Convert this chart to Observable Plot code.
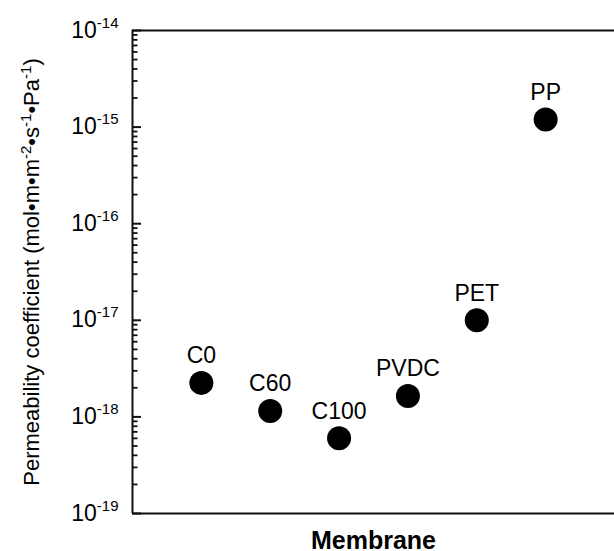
<!DOCTYPE html>
<html><head><meta charset="utf-8">
<script src="https://cdn.jsdelivr.net/npm/d3@7"></script>
<script src="https://cdn.jsdelivr.net/npm/@observablehq/plot@0.6"></script>
<style>body{margin:0;background:#fff}</style>
</head><body><div id="chart"></div>
<script>
const membranes = ["C0", "C60", "C100", "PVDC", "PET", "PP"];
const permeability = [2.25e-18, 1.15e-18, 6.0e-19, 1.65e-18, 1.0e-17, 1.2e-15];
const decadeTicks = [1e-19, 1e-18, 1e-17, 1e-16, 1e-15, 1e-14];
const yLabel = "Permeability coefficient (mol•m•m^-2•s^-1•Pa^-1)";
const xLabel = "Membrane";

const data = membranes.map((name, i) => ({name, order: i + 1, value: permeability[i]}));
const minorTicks = decadeTicks.slice(0, -1).flatMap(d => d3.range(2, 10).map(m => m * d));

const W = 614, H = 551, ML = 132, MR = 0, MT = 30, MB = 38;
const innerW = W - ML - MR;
const font = "'Liberation Sans', Arial, Helvetica, sans-serif";

const svg = Plot.plot({
  width: W, height: H,
  marginLeft: ML, marginRight: MR, marginTop: MT, marginBottom: MB,
  style: {fontFamily: font, color: "#000", background: "#fff"},
  x: {type: "linear", domain: [0, 7], axis: null},
  y: {type: "log", domain: [1e-19, 1e-14]},
  marks: [
    Plot.axisY(decadeTicks, {anchor: "left", tickSize: 0, tickPadding: 14, fontSize: 22, label: null,
      tickFormat: d => `10^${Math.round(Math.log10(d))}`}),
    Plot.tickY(decadeTicks, {insetRight: innerW - 9, stroke: "#111", strokeWidth: 2}),
    Plot.tickY(minorTicks, {insetRight: innerW - 5.5, stroke: "#111", strokeWidth: 1.8}),
    Plot.ruleX([0], {stroke: "#111", strokeWidth: 2}),
    Plot.ruleY([1e-14, 1e-19], {stroke: "#111", strokeWidth: 1.8}),
    Plot.dot(data, {x: "order", y: "value", r: 12, fill: "#000", stroke: null}),
    Plot.text(data, {x: "order", y: "value", text: "name", dy: -27, fontSize: 23, fill: "#000", lineAnchor: "middle"}),
    Plot.text([xLabel], {frameAnchor: "bottom", dy: 27, fontSize: 25, fontWeight: "bold", fill: "#000", lineAnchor: "middle"}),
    Plot.text([yLabel], {frameAnchor: "left", dx: -101, rotate: -90, fontSize: 22, fill: "#000", textAnchor: "middle", lineAnchor: "middle"})
  ]
});

// superscript formatting
const NS = "http://www.w3.org/2000/svg";
svg.querySelectorAll("text").forEach(t => {
  const s = t.textContent;
  const m = s.match(/^10\^(-?\d+)$/);
  if (m) {
    t.textContent = "";
    const a = document.createElementNS(NS, "tspan"); a.textContent = "10";
    a.setAttribute("font-size", "23"); t.appendChild(a);
    const b = document.createElementNS(NS, "tspan"); b.textContent = m[1];
    b.setAttribute("dy", "-10"); b.setAttribute("font-size", "15"); t.appendChild(b);
  } else if (s.includes("^")) {
    t.textContent = "";
    const parts = s.split(/\^(-?\d+)/);
    parts.forEach((p, i) => {
      if (!p) return;
      const sp = document.createElementNS(NS, "tspan");
      sp.textContent = p;
      if (i % 2 === 1) { sp.setAttribute("dy", "-8"); sp.setAttribute("font-size", "15"); }
      else if (i > 0) { sp.setAttribute("dy", "8"); }
      t.appendChild(sp);
    });
  }
});
document.getElementById("chart").appendChild(svg);
</script>
</body></html>
